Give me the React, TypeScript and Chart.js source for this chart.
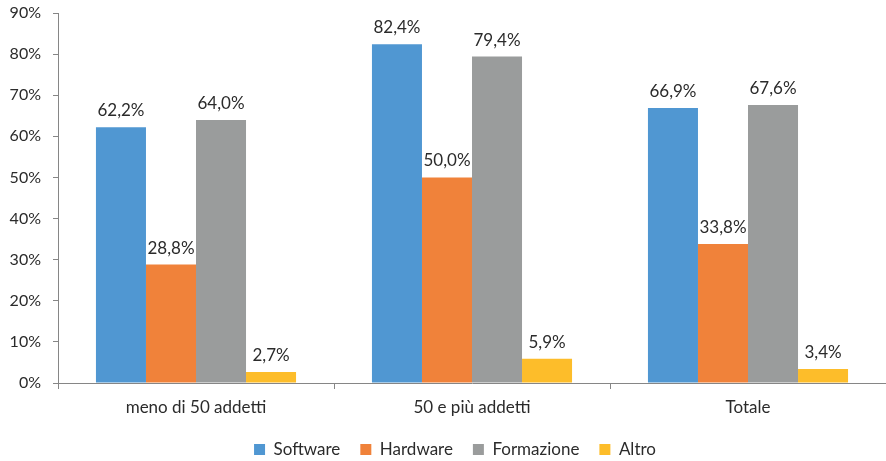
import React, { useEffect, useRef } from "react";
import { Chart, registerables } from "chart.js";

Chart.register(...registerables);

const categories = ["meno di 50 addetti", "50 e più addetti", "Totale"];
const seriesNames = ["Software", "Hardware", "Formazione", "Altro"];
const software = [62.2, 82.4, 66.9];
const hardware = [28.8, 50.0, 33.8];
const formazione = [64.0, 79.4, 67.6];
const altro = [2.7, 5.9, 3.4];
const colors = ["#5097D2", "#F0823A", "#9A9C9C", "#FDBD2A"];
const yTicks = [0, 10, 20, 30, 40, 50, 60, 70, 80, 90];

const FONT = "Lato, 'Open Sans', sans-serif";
const TEXT = "#2b2b2b";
const AXIS = "#868686";

const fmt = (v: number) => v.toFixed(1).replace(".", ",") + "%";

const valueLabels = {
  id: "valueLabels",
  afterDatasetsDraw(chart: any) {
    const ctx = chart.ctx;
    ctx.save();
    ctx.font = `17px ${FONT}`;
    ctx.fillStyle = TEXT;
    ctx.textAlign = "center";
    ctx.textBaseline = "alphabetic";
    chart.data.datasets.forEach((ds: any, i: number) => {
      const meta = chart.getDatasetMeta(i);
      meta.data.forEach((el: any, j: number) => {
        ctx.fillText(fmt(ds.data[j]), el.x, el.y - 11);
      });
    });
    ctx.restore();
  },
};

const legendShift = {
  id: "legendShift",
  afterLayout(chart: any) {
    if (chart.legend) chart.legend.left = 24;
  },
};

export default function App() {
  const ref = useRef<HTMLCanvasElement | null>(null);
  useEffect(() => {
    if (!ref.current) return;
    const seriesData = [software, hardware, formazione, altro];
    const chart = new Chart(ref.current, {
      type: "bar",
      data: {
        labels: categories,
        datasets: seriesNames.map((name, i) => ({
          label: name,
          data: seriesData[i],
          backgroundColor: colors[i],
          borderWidth: 0,
          categoryPercentage: 0.725,
          barPercentage: 1,
        })),
      },
      options: {
        responsive: false,
        animation: false,
        devicePixelRatio: 1,
        layout: { padding: { top: 13, right: 0, bottom: 0, left: 0 } },
        plugins: {
          tooltip: { enabled: false },
          legend: {
            position: "bottom",
            maxHeight: 40,
            labels: {
              boxWidth: 11,
              boxHeight: 11,
              padding: 20,
              color: TEXT,
              font: { family: FONT, size: 17 },
            },
          },
        },
        scales: {
          x: {
            afterFit(scale: any) {
              scale.height = 38;
              scale.paddingLeft = 0;
              scale.paddingRight = 0;
            },
            grid: {
              display: true,
              drawOnChartArea: false,
              drawTicks: true,
              tickLength: 6,
              color: AXIS,
              offset: true,
            },
            border: { display: true, color: AXIS, width: 1 },
            ticks: {
              color: TEXT,
              padding: 8,
              font: { family: FONT, size: 17 },
            },
          },
          y: {
            min: 0,
            max: 90,
            afterFit(scale: any) {
              scale.width = 58;
              scale.paddingTop = 0;
              scale.paddingBottom = 0;
            },
            afterBuildTicks(scale: any) {
              scale.ticks = yTicks.map((v) => ({ value: v }));
            },
            grid: {
              display: true,
              drawOnChartArea: false,
              drawTicks: true,
              tickLength: 5,
              color: AXIS,
            },
            border: { display: true, color: AXIS, width: 1 },
            ticks: {
              color: TEXT,
              padding: 12,
              font: { family: FONT, size: 16 },
              callback: (v: any) => `${v}%`,
            },
          },
        },
      },
      plugins: [valueLabels, legendShift],
    });
    return () => chart.destroy();
  }, []);
  return (
    <div style={{ position: "absolute", left: 0, top: 0, width: 886, height: 461, background: "#fff" }}>
      <canvas ref={ref} width={886} height={461} style={{ display: "block" }} />
    </div>
  );
}
